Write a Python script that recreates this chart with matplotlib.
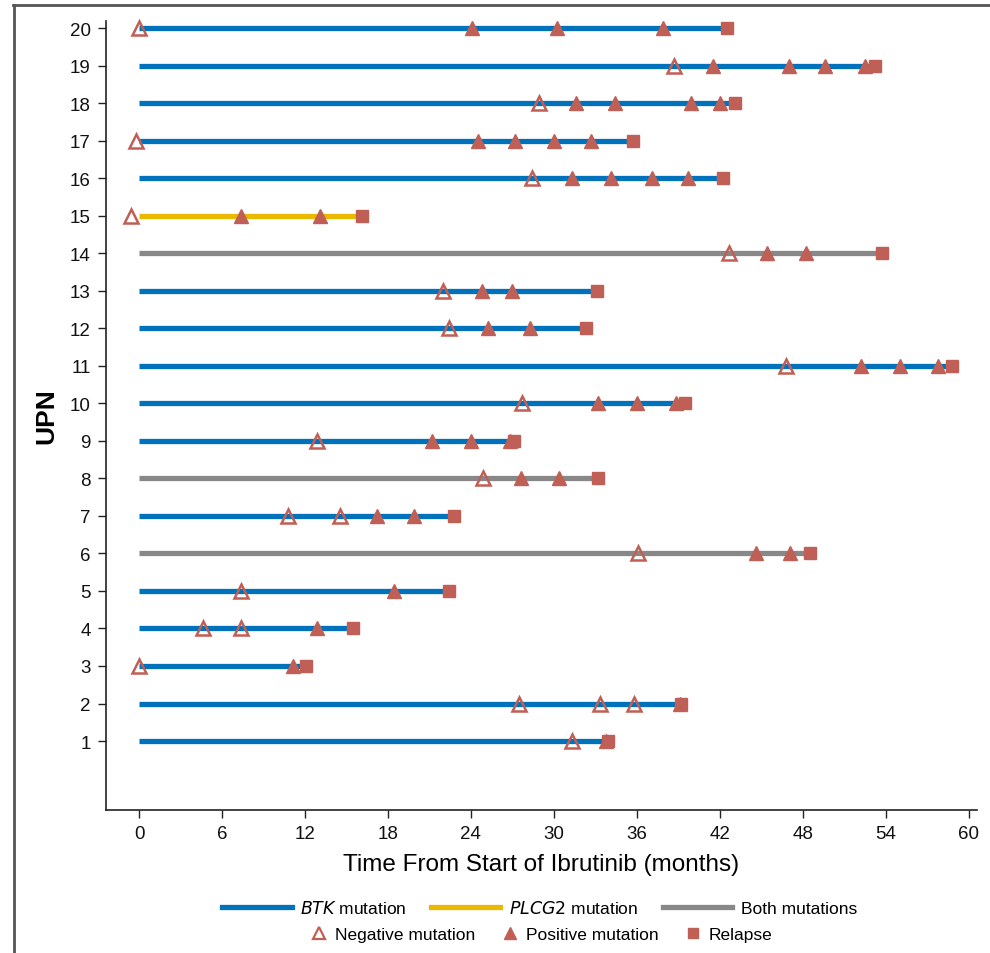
import matplotlib.pyplot as plt
from matplotlib.lines import Line2D

# ---------------------------------------------------------------------------
# Data (months from start of ibrutinib)
# ---------------------------------------------------------------------------
UPN = list(range(1, 21))

MUTATION = ["BTK", "BTK", "BTK", "BTK", "BTK", "Both", "BTK", "Both", "BTK", "BTK",
            "BTK", "BTK", "BTK", "Both", "PLCG2", "BTK", "BTK", "BTK", "BTK", "BTK"]

NEGATIVE = [
    [31.3],
    [27.5, 33.3, 35.8],
    [0.0],
    [4.6, 7.35],
    [7.35],
    [36.05],
    [10.8, 14.5],
    [24.9],
    [12.9],
    [27.7],
    [46.8],
    [22.4],
    [22.0],
    [42.7],
    [-0.6],
    [28.4],
    [-0.2],
    [28.9],
    [38.7],
    [0.0],
]

POSITIVE = [
    [33.8],
    [39.1],
    [11.1],
    [12.9],
    [18.45],
    [44.6, 47.1],
    [17.2, 19.9],
    [27.6, 30.4],
    [21.2, 24.0, 26.8],
    [33.2, 36.0, 38.8],
    [52.2, 55.05, 57.8],
    [25.2, 28.3],
    [24.8, 27.0],
    [45.4, 48.2],
    [7.35, 13.1],
    [31.3, 34.1, 37.1, 39.7],
    [24.5, 27.2, 30.0, 32.7],
    [31.6, 34.4, 39.9, 42.0],
    [41.5, 47.0, 49.6, 52.5],
    [24.1, 30.2, 37.9],
]

RELAPSE = [33.9, 39.2, 12.05, 15.45, 22.4, 48.5, 22.8, 33.2, 27.1, 39.5,
           58.8, 32.3, 33.1, 53.75, 16.1, 42.2, 35.75, 43.1, 53.2, 42.5]

XTICKS = list(range(0, 61, 6))

# ---------------------------------------------------------------------------
# Styles
# ---------------------------------------------------------------------------
COLORS = {"BTK": "#0072BC", "PLCG2": "#EBB800", "Both": "#888888"}
MARK = "#BF5F55"
LW = 3.8

plt.rcParams["font.family"] = ["Liberation Sans", "DejaVu Sans"]

fig = plt.figure(figsize=(9.9, 9.54), dpi=100)
ax = fig.add_axes([106 / 990, 1 - 810.7 / 954, (977 - 106) / 990, (810.7 - 22) / 954])

for k, upn in enumerate(UPN):
    ax.plot([0, RELAPSE[k]], [upn, upn], color=COLORS[MUTATION[k]], lw=LW,
            solid_capstyle="butt", zorder=2)
    ax.plot(NEGATIVE[k], [upn] * len(NEGATIVE[k]), ls="none", marker="^",
            ms=10.5, mfc="none", mec=MARK, mew=1.8, zorder=4, clip_on=False)
    ax.plot(POSITIVE[k], [upn] * len(POSITIVE[k]), ls="none", marker="^",
            ms=10.5, mfc=MARK, mec=MARK, zorder=4, clip_on=False)
    ax.plot([RELAPSE[k]], [upn], ls="none", marker="s", ms=8,
            mfc=MARK, mec=MARK, zorder=5, clip_on=False)

ax.set_xlim(-2.39, 60.6)
ax.set_ylim(-0.83, 20.19)
ax.set_xticks(XTICKS)
ax.set_yticks(UPN)
ax.tick_params(axis="both", direction="out", length=6, width=1, labelsize=13.5,
               color="#222222", labelcolor="#111111")
ax.tick_params(axis="x", pad=5)
ax.tick_params(axis="y", pad=5)
for side in ["top", "right"]:
    ax.spines[side].set_visible(False)
for side in ["left", "bottom"]:
    ax.spines[side].set_linewidth(1.2)
    ax.spines[side].set_color("#222222")

ax.set_xlabel("Time From Start of Ibrutinib (months)", fontsize=17.5, labelpad=8)
ax.set_ylabel("UPN", fontsize=19, fontweight="bold", labelpad=8)

# legends
line_handles = [Line2D([], [], color=COLORS["BTK"], lw=LW),
                Line2D([], [], color=COLORS["PLCG2"], lw=LW),
                Line2D([], [], color=COLORS["Both"], lw=LW)]
line_labels = ["$\\it{BTK}$ mutation", "$\\it{PLCG2}$ mutation", "Both mutations"]
fig.legend(line_handles, line_labels, loc="center", ncol=3,
           bbox_to_anchor=(0.545, 1 - 909 / 954), frameon=False,
           fontsize=12.5, handlelength=4.0, columnspacing=1.4,
           handletextpad=0.5)

mark_handles = [Line2D([], [], ls="none", marker="^", ms=9, mfc="none", mec=MARK, mew=1.6),
                Line2D([], [], ls="none", marker="^", ms=9, mfc=MARK, mec=MARK),
                Line2D([], [], ls="none", marker="s", ms=7, mfc=MARK, mec=MARK)]
mark_labels = ["Negative mutation", "Positive mutation", "Relapse"]
fig.legend(mark_handles, mark_labels, loc="center", ncol=3,
           bbox_to_anchor=(0.547, 1 - 935 / 954), frameon=False,
           fontsize=12.5, handlelength=1.0, columnspacing=1.5,
           handletextpad=0.4)

# figure frame (top and left edges)
fig.add_artist(Line2D([13 / 990, 1], [1 - 6 / 954, 1 - 6 / 954],
                      transform=fig.transFigure, color="#555555", lw=2))
fig.add_artist(Line2D([14 / 990, 14 / 990], [1 - 6 / 954, 0],
                      transform=fig.transFigure, color="#555555", lw=2))

fig.savefig("out.png", dpi=100, facecolor="white")
